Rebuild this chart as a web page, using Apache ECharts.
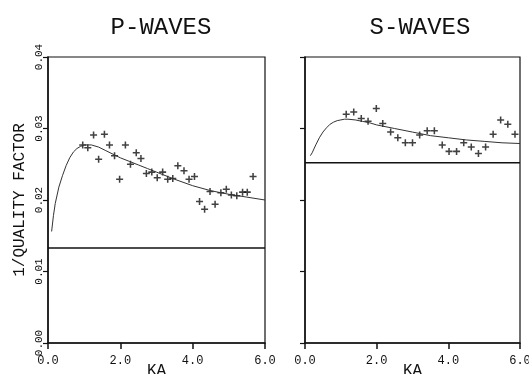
<!DOCTYPE html>
<html><head><meta charset="utf-8">
<script src="https://cdn.jsdelivr.net/npm/echarts@6/dist/echarts.min.js"></script>
<style>html,body{margin:0;padding:0;background:#fff}#c{width:529px;height:374px}</style>
</head><body><div id="c"></div>
<script>
// P-waves
const pTitle = 'P-WAVES';
const pPointKa = [0.96,1.10,1.26,1.40,1.56,1.70,1.84,1.98,2.14,2.28,2.44,2.57,2.72,2.87,3.02,3.17,3.31,3.45,3.59,3.76,3.90,4.05,4.19,4.33,4.48,4.62,4.78,4.93,5.07,5.22,5.38,5.51,5.67];
const pPointVal = [0.0277,0.0273,0.0291,0.0257,0.0292,0.0277,0.0262,0.0229,0.0277,0.0250,0.0266,0.0258,0.0237,0.0239,0.0231,0.0239,0.0229,0.0230,0.0248,0.0241,0.0229,0.0233,0.0198,0.0187,0.0212,0.0194,0.0210,0.0215,0.0207,0.0206,0.0211,0.0211,0.0233];
const pCurveKa = [0.1,0.15,0.2,0.3,0.4,0.5,0.6,0.7,0.8,0.9,1.0,1.1,1.2,1.4,1.6,1.8,2.0,2.25,2.5,2.75,3.0,3.5,4.0,4.5,5.0,5.5,6.0];
const pCurveVal = [0.0156,0.0178,0.0195,0.0218,0.0234,0.0248,0.0259,0.0267,0.0272,0.0275,0.0277,0.0277,0.0277,0.0274,0.0269,0.0264,0.0259,0.0254,0.0249,0.0244,0.0239,0.0229,0.0220,0.0213,0.0208,0.0204,0.0200];
const pLevel = 0.0133;
// S-waves
const sTitle = 'S-WAVES';
const sPointKa = [1.15,1.36,1.57,1.76,1.99,2.17,2.39,2.59,2.80,3.00,3.20,3.41,3.61,3.83,4.02,4.23,4.43,4.64,4.84,5.04,5.25,5.46,5.66,5.86];
const sPointVal = [0.0320,0.0323,0.0314,0.0310,0.0328,0.0307,0.0295,0.0287,0.0280,0.0280,0.0291,0.0297,0.0297,0.0277,0.0268,0.0268,0.0280,0.0274,0.0265,0.0274,0.0292,0.0312,0.0306,0.0292];
const sCurveKa = [0.15,0.2,0.3,0.4,0.5,0.6,0.7,0.8,0.9,1.0,1.1,1.2,1.4,1.6,1.8,2.0,2.5,3.0,3.5,4.0,4.5,5.0,5.5,6.0];
const sCurveVal = [0.0262,0.0266,0.0277,0.0287,0.0295,0.0301,0.0306,0.0309,0.0311,0.0312,0.0313,0.0313,0.0312,0.0310,0.0308,0.0305,0.0300,0.0295,0.0290,0.0287,0.0284,0.0282,0.0280,0.0279];
const sLevel = 0.0252;
// axes
const xName = 'KA';
const yName = '1/QUALITY FACTOR';
const xMin = 0, xMax = 6, xStep = 2;
const yMin = 0, yMax = 0.04, yStep = 0.01;

const zip = (a, b) => a.map((v, i) => [v, b[i]]);
const FONT = 'Liberation Mono';
const INK = '#111';
const plus = 'path://M3.9,0H6.1V3.9H10V6.1H6.1V10H3.9V6.1H0V3.9H3.9Z';

const chart = echarts.init(document.getElementById('c'), null, {renderer: 'canvas'});

function xAxis(idx) {
  return {
    gridIndex: idx, type: 'value', min: xMin, max: xMax, interval: xStep,
    name: xName, nameLocation: 'middle', nameGap: 20, nameMoveOverlap: false,
    nameTextStyle: {fontFamily: FONT, fontSize: 16, color: INK, verticalAlign: 'top'},
    axisLine: {show: true, onZero: false, lineStyle: {color: INK, width: 1.5}},
    axisTick: {show: true, inside: false, length: 6, lineStyle: {color: INK, width: 1.5}},
    axisLabel: {fontFamily: FONT, fontSize: 12, color: INK, margin: 12, formatter: v => v.toFixed(1)},
    splitLine: {show: false}
  };
}
function yAxis(idx, labels) {
  return {
    gridIndex: idx, type: 'value', min: yMin, max: yMax, interval: yStep,
    name: labels ? yName : '', nameLocation: 'middle', nameGap: 20, nameRotate: 90, nameMoveOverlap: false,
    nameTextStyle: {fontFamily: FONT, fontSize: 16, color: INK},
    axisLine: {show: true, onZero: false, lineStyle: {color: INK, width: 1.5}},
    axisTick: {show: true, inside: false, length: 5, lineStyle: {color: INK, width: 1.2}},
    axisLabel: {show: labels, rotate: 90, fontFamily: FONT, fontSize: 11, color: INK, margin: 3,
      formatter: v => v.toFixed(2)},
    splitLine: {show: false}
  };
}

function panelSeries(idx, pk, pv, ck, cv, level) {
  return [
    {type: 'line', xAxisIndex: idx, yAxisIndex: idx, data: zip(ck, cv), smooth: false,
      showSymbol: false, lineStyle: {color: '#333', width: 1}, silent: true},
    {type: 'line', xAxisIndex: idx, yAxisIndex: idx, data: [[xMin, level], [xMax, level]],
      showSymbol: false, lineStyle: {color: INK, width: 1.5}, silent: true},
    {type: 'scatter', xAxisIndex: idx, yAxisIndex: idx, data: zip(pk, pv), symbol: plus, symbolSize: 7,
      itemStyle: {color: INK}, silent: true}
  ];
}

chart.setOption({
  animation: false,
  backgroundColor: '#fff',
  title: [
    {text: pTitle, left: 156, top: 11, textAlign: 'center', textStyle: {fontFamily: FONT, fontSize: 24, fontWeight: 'normal', color: INK}},
    {text: sTitle, left: 415, top: 11, textAlign: 'center', textStyle: {fontFamily: FONT, fontSize: 24, fontWeight: 'normal', color: INK}}
  ],
  grid: [
    {left: 48, top: 57, width: 217, height: 286, outerBoundsMode: 'none', containLabel: false, show: true, borderColor: INK, borderWidth: 1.2, backgroundColor: 'transparent'},
    {left: 305, top: 57, width: 215, height: 286, outerBoundsMode: 'none', containLabel: false, show: true, borderColor: INK, borderWidth: 1.2, backgroundColor: 'transparent'}
  ],
  xAxis: [xAxis(0), xAxis(1)],
  yAxis: [yAxis(0, true), yAxis(1, false)],
  series: [
    ...panelSeries(0, pPointKa, pPointVal, pCurveKa, pCurveVal, pLevel),
    ...panelSeries(1, sPointKa, sPointVal, sCurveKa, sCurveVal, sLevel)
  ]
});
</script>
</body></html>
